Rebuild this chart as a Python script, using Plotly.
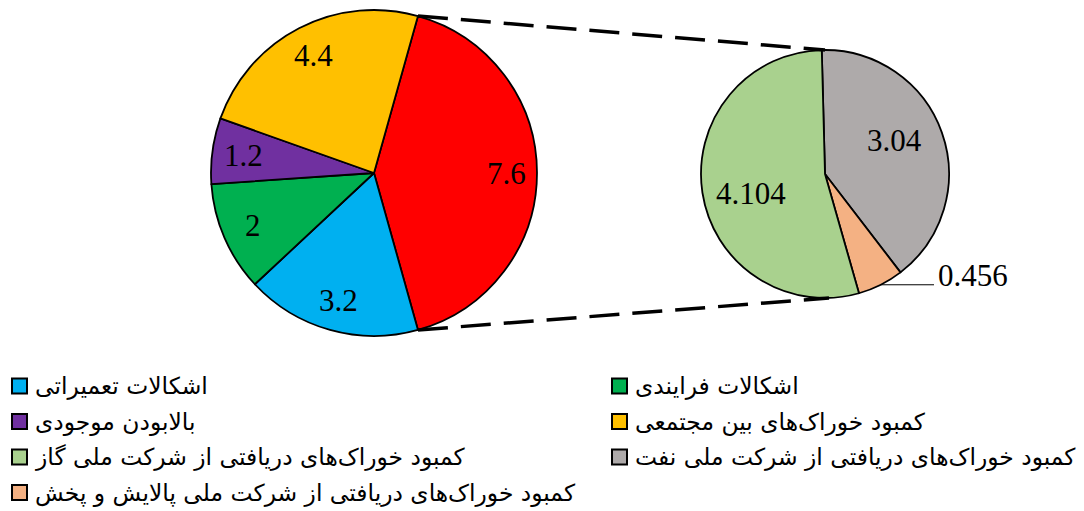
import math
import plotly.graph_objects as go

# ---------------- data ----------------
main_labels = ["سایر", "اشکالات تعمیراتی", "اشکالات فرایندی", "بالابودن موجودی", "کمبود خوراک‌های بین مجتمعی"]
main_values = [7.6, 3.2, 2, 1.2, 4.4]
main_colors = ["#FF0000", "#00B0F0", "#00B050", "#7030A0", "#FFC000"]

sec_labels = ["کمبود خوراک‌های دریافتی از شرکت ملی نفت",
              "کمبود خوراک‌های دریافتی از شرکت ملی پالایش و پخش",
              "کمبود خوراک‌های دریافتی از شرکت ملی گاز"]
sec_values = [3.04, 0.456, 4.104]
sec_colors = ["#AEAAAA", "#F4B183", "#A9D18E"]

legend_labels = ["اشکالات تعمیراتی", "اشکالات فرایندی",
                 "بالابودن موجودی", "کمبود خوراک‌های بین مجتمعی",
                 "کمبود خوراک‌های دریافتی از شرکت ملی گاز", "کمبود خوراک‌های دریافتی از شرکت ملی نفت",
                 "کمبود خوراک‌های دریافتی از شرکت ملی پالایش و پخش"]
legend_colors = ["#00B0F0", "#00B050", "#7030A0", "#FFC000", "#A9D18E", "#AEAAAA", "#F4B183"]

# ---------------- layout constants ----------------
W, H = 1084, 511
MAIN_C, MAIN_R = (374, 173), 163
SEC_C, SEC_R = (825, 174), 124
SEC_ROT = -1.5
NUM_FONT = dict(family="Liberation Serif", size=31, color="black")
LEG_FONT = dict(family="DejaVu Sans", size=23.4, color="black")


def dom(c, r):
    return dict(x=[(c[0] - r) / W, (c[0] + r) / W], y=[1 - (c[1] + r) / H, 1 - (c[1] - r) / H])


def pt(c, r, ang):  # ang: degrees clockwise from 12 o'clock
    a = math.radians(ang)
    return c[0] + r * math.sin(a), c[1] - r * math.cos(a)


main_tot = sum(main_values)
main_rot = 90 - 0.5 * main_values[0] / main_tot * 360

fig = go.Figure()
fig.add_trace(go.Pie(labels=main_labels, values=main_values, sort=False, direction="clockwise",
                     rotation=main_rot, marker=dict(colors=main_colors, line=dict(color="black", width=1.8)),
                     textinfo="none", hoverinfo="label+value", showlegend=False, domain=dom(MAIN_C, MAIN_R)))
fig.add_trace(go.Pie(labels=sec_labels, values=sec_values, sort=False, direction="clockwise",
                     rotation=SEC_ROT, marker=dict(colors=sec_colors, line=dict(color="black", width=1.8)),
                     textinfo="none", hoverinfo="label+value", showlegend=False, domain=dom(SEC_C, SEC_R)))

ann = []
shapes = []

# main labels
acc = main_rot
for v in main_values:
    span = v / main_tot * 360
    x, y = pt(MAIN_C, MAIN_R * 0.81, acc + span / 2)
    ann.append(dict(x=x, y=y, xref="x", yref="y", text=str(v), showarrow=False, font=NUM_FONT))
    acc += span

# secondary labels
sec_tot = sum(sec_values)
acc = SEC_ROT
for i, v in enumerate(sec_values):
    span = v / sec_tot * 360
    mid = acc + span / 2
    if span < 40:
        ex, ey = pt(SEC_C, SEC_R, mid)
        shapes.append(dict(type="line", xref="x", yref="y", x0=ex, y0=ey, x1=934, y1=ey,
                           line=dict(color="black", width=1)))
        ann.append(dict(x=936, y=ey - 9, xref="x", yref="y", text=str(v), showarrow=False,
                        xanchor="left", font=NUM_FONT))
    else:
        x, y = pt(SEC_C, SEC_R * 0.62, mid - 6)
        ann.append(dict(x=x, y=y, xref="x", yref="y", text=str(v), showarrow=False, font=NUM_FONT))
    acc += span

# connector dashed lines
t1 = pt(MAIN_C, MAIN_R, main_rot)
b1 = pt(MAIN_C, MAIN_R, main_rot + main_values[0] / main_tot * 360)
for p, q in [(t1, (SEC_C[0], SEC_C[1] - SEC_R)), (b1, (SEC_C[0] + 4, SEC_C[1] + SEC_R))]:
    shapes.append(dict(type="line", xref="x", yref="y", x0=p[0], y0=p[1], x1=q[0], y1=q[1],
                       line=dict(color="black", width=3.5, dash="30px,13px")))

# legend
row_y = [386, 421.5, 457, 492.5]
col_x = [12, 612]
for i, (lab, col) in enumerate(zip(legend_labels, legend_colors)):
    cx = col_x[i % 2]
    cy = row_y[i // 2]
    shapes.append(dict(type="rect", xref="x", yref="y", x0=cx, x1=cx + 15, y0=cy - 7.5, y1=cy + 7.5,
                       fillcolor=col, line=dict(color="black", width=2)))
    ann.append(dict(x=cx + 21, y=cy, xref="x", yref="y", text=lab, showarrow=False,
                    xanchor="left", yanchor="middle", font=LEG_FONT))

fig.update_layout(
    width=W, height=H, margin=dict(l=0, r=0, t=0, b=0),
    paper_bgcolor="white", plot_bgcolor="rgba(0,0,0,0)",
    xaxis=dict(range=[0, W], visible=False, fixedrange=True),
    yaxis=dict(range=[H, 0], visible=False, fixedrange=True),
    annotations=ann, shapes=shapes, showlegend=False,
)
fig.write_html("out.html", post_script="document.body.style.margin='0px';",
               config={"displayModeBar": False})
